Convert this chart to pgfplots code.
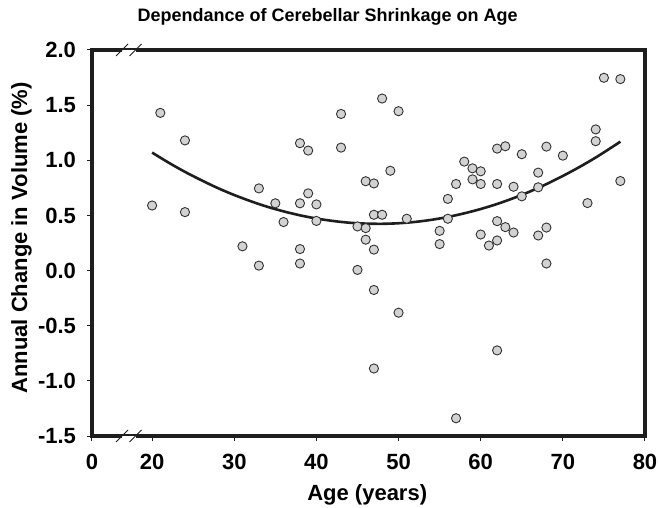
\documentclass[border=0pt]{standalone}
\usepackage{pgfplots}
\pgfplotsset{compat=1.18}
\usepackage{fontspec}
\setmainfont{Liberation Sans}
\definecolor{mkfill}{RGB}{210,210,210}
\definecolor{mkdraw}{RGB}{50,50,50}
\definecolor{axcol}{RGB}{30,30,30}
\begin{document}
\begin{tikzpicture}
\useasboundingbox (-46pt,-36pt) rectangle (283pt,218pt);
\begin{axis}[
  scale only axis,
  width=276.5pt, height=193pt,
  at={(0,0)}, anchor=south west,
  xmin=12.683, xmax=80,
  ymin=-1.5, ymax=2.0,
  xtick={12.683,20,30,40,50,60,70,80},
  xticklabels={0,20,30,40,50,60,70,80},
  ytick={-1.5,-1,-0.5,0,0.5,1,1.5,2},
  yticklabels={-1.5,-1.0,-0.5,0.0,0.5,1.0,1.5,2.0},
  xtick pos=bottom, ytick pos=left,
  tick align=outside,
  major tick length=2.5pt,
  tick style={line width=0.5pt, color=axcol},
  axis line style={line width=1.6pt, color=axcol},
  tick label style={font=\bfseries\fontsize{11}{13}\selectfont},
  /pgf/number format/assume math mode=true,
  xticklabel style={yshift=-3pt},
  yticklabel style={xshift=-2pt},
  title={Dependance of Cerebellar Shrinkage on Age},
  title style={font=\bfseries\fontsize{9}{11}\selectfont, at={(axis description cs:0.426,1)}, anchor=base, yshift=8pt},
  xlabel={Age (years)},
  xlabel style={font=\bfseries\fontsize{11}{13}\selectfont, at={(axis description cs:0.4977,0)}, anchor=base, yshift=-32pt},
  ylabel={Annual Change in Volume (\%)},
  ylabel style={font=\bfseries\fontsize{11}{13}\selectfont, at={(axis description cs:-0.1277,0.513)}, anchor=center},
  clip=false,
  after end axis/.code={
    \fill[white] (axis cs:16.34,-1.5) ++(0,-1.2pt) rectangle (axis cs:17.98,-1.5) ++(0,1.2pt);
    \fill[white] (axis cs:16.34,2.0) ++(0,-1.2pt) rectangle (axis cs:17.98,2.0) ++(0,1.2pt);
    \draw[line width=0.5pt, axcol] (axis cs:16.34,-1.5) ++(-3pt,-3pt) -- ++(6pt,6pt);
    \draw[line width=0.5pt, axcol] (axis cs:17.98,-1.5) ++(-3pt,-3pt) -- ++(6pt,6pt);
    \draw[line width=0.5pt, axcol] (axis cs:16.34,2.0) ++(-3pt,-3pt) -- ++(6pt,6pt);
    \draw[line width=0.5pt, axcol] (axis cs:17.98,2.0) ++(-3pt,-3pt) -- ++(6pt,6pt);
  },
]
\addplot[only marks, mark=*, mark size=2.3pt, mark options={fill=mkfill, draw=mkdraw, line width=0.45pt}] coordinates {
(20,0.59) (21,1.43) (24,1.18) (24,0.53) (31,0.22) (33,0.745) (33,0.045)
(35,0.61) (36,0.44) (38,1.155) (38,0.61) (38,0.195) (38,0.064) (39,1.088)
(39,0.70) (40,0.60) (40,0.45) (43,1.42) (43,1.115) (45,0.40) (45,0.006)
(46,0.81) (46,0.385) (46,0.28) (47,0.79) (47,0.506) (47,0.19) (47,-0.176)
(47,-0.888) (48,1.56) (48,0.506) (49,0.905) (50,1.445) (50,-0.382) (51,0.47)
(55,0.36) (55,0.24) (56,0.65) (56,0.47) (57,0.785) (57,-1.339) (58,0.988)
(59,0.927) (59,0.827) (60,0.90) (60,0.785) (60,0.327) (61,0.227) (62,1.106)
(62,0.785) (62,0.448) (62,0.273) (62,-0.724) (63,1.127) (63,0.394) (64,0.76)
(64,0.345) (65,1.055) (65,0.673) (67,0.888) (67,0.755) (67,0.318) (68,1.124)
(68,0.39) (68,0.064) (70,1.042) (73,0.612) (74,1.28) (74,1.173) (75,1.748)
(77,1.736) (77,0.812)
};
\addplot[smooth, line width=1.3pt, color=axcol] coordinates {
(20,1.070) (22,0.979) (24,0.895) (26,0.819) (28,0.748) (30,0.685) (32,0.629)
(34,0.579) (36,0.537) (38,0.501) (40,0.472) (42,0.450) (44,0.434) (46,0.426)
(48,0.424) (50,0.429) (52,0.441) (54,0.460) (56,0.486) (58,0.519) (60,0.558)
(62,0.604) (64,0.657) (66,0.717) (68,0.784) (70,0.858) (72,0.938) (74,1.025)
(76,1.120) (77,1.169)
};
\end{axis}
\end{tikzpicture}
\end{document}
